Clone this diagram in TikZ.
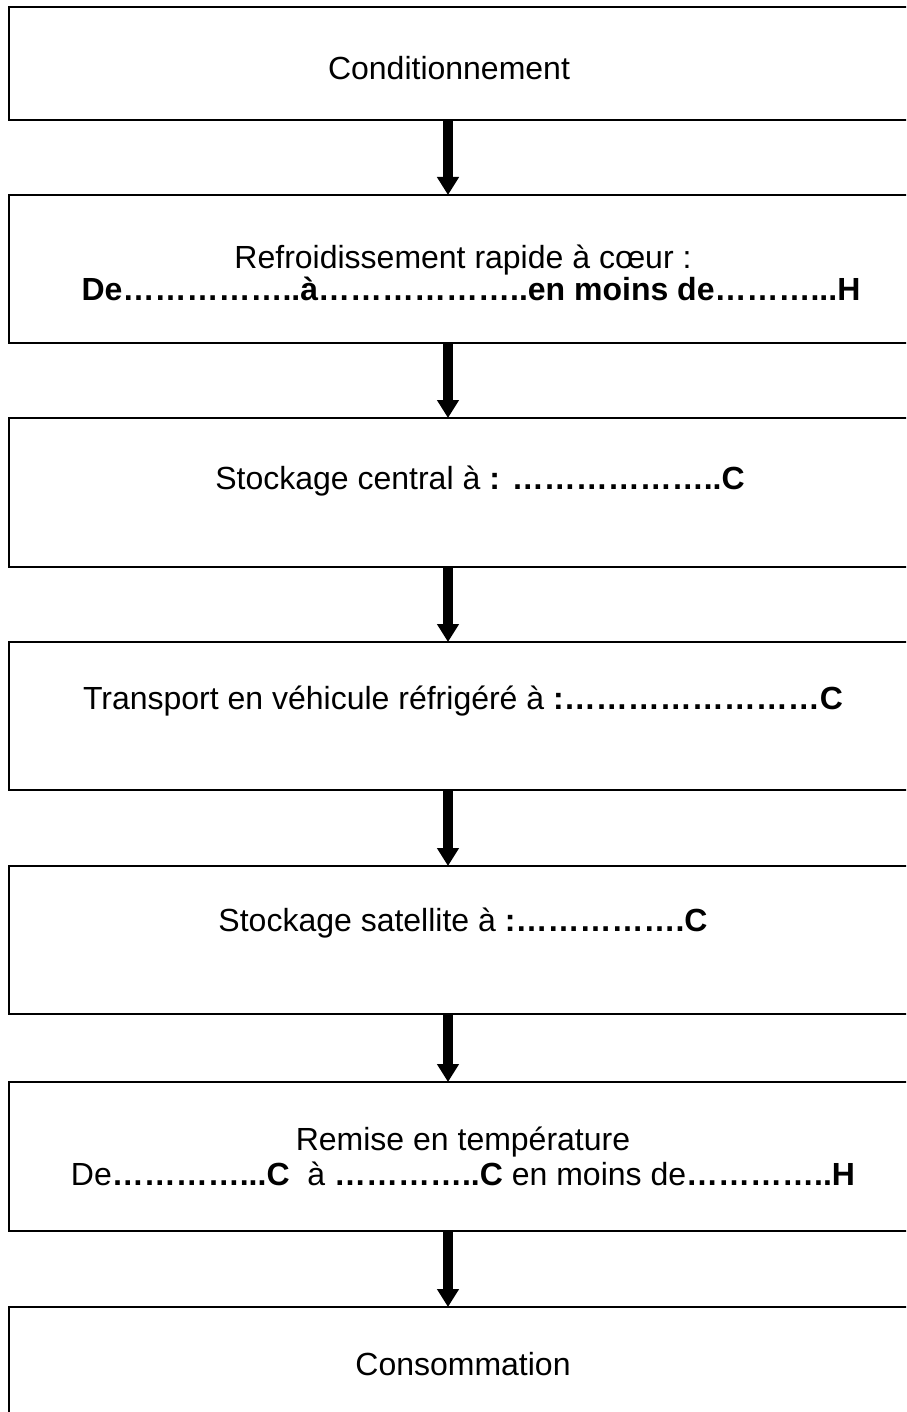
\documentclass[tikz,border=0pt]{standalone}
\usepackage{fontspec}
\setmainfont{Liberation Sans}
\usetikzlibrary{arrows.meta}

% #1 points de suspension, puis #2 points
\newcommand{\pointilles}[2]{\foreach \k in {1,...,#1}{…}\foreach \k in {0,...,#2}{\ifnum\k>0 .\fi}}

\tikzset{
  etape/.style={draw, line width=1pt, minimum width=470pt, inner sep=0pt,
    outer sep=0pt, anchor=north west},
  texte/.style={font=\fontsize{16}{19}\selectfont, anchor=base, inner sep=0pt},
  fleche/.style={line width=5pt, -{Triangle[width=10.5pt,length=9pt]}}
}

\begin{document}
\begin{tikzpicture}[x=0.5pt,y=-0.5pt]

\useasboundingbox (0,0) rectangle (906,1412);
\clip (0,0) rectangle (906,1412);

\coordinate (axe) at (448,0);

 \foreach \haut/\h [count=\i] in {7.5/112.5,195/148,418/149,642/148,866/148,1082/149,1307/148}
 {\node[etape, minimum height=\h*0.5pt] (b\i) at (8.7,\haut) {};
 }
 \foreach \i [evaluate=\i as \j using int(\i+1)] in {1,...,6}
 {\draw[fleche] (b\i.south -| axe) -- (b\j.north -| axe);
 }

\node[texte] (t1) at (449,80) {Conditionnement};
\node[texte] (t2a) at (463,268) {Refroidissement rapide à cœur :};
\node[texte] (t2b) at (471,300) {\textbf{De\pointilles{5}{2}à\pointilles{6}{2}en moins de\pointilles{3}{3}H}};
\node[texte] (t3) at (480,489) {Stockage central à \textbf{: \pointilles{6}{2}C}};
\node[texte] (t4) at (463,709) {Transport en véhicule réfrigéré à \textbf{:\pointilles{8}{0}C}};
\node[texte] (t5) at (463,931) {Stockage satellite à \textbf{:\pointilles{5}{1}C}};
\node[texte] (t6a) at (463,1150) {Remise en température};
\node[texte] (t6b) at (463,1185) {De\textbf{\pointilles{4}{3}C}~ à \textbf{\pointilles{4}{2}C} en moins de\textbf{\pointilles{4}{2}H}};
\node[texte] (t7) at (463,1375) {Consommation};

\end{tikzpicture}
\end{document}
